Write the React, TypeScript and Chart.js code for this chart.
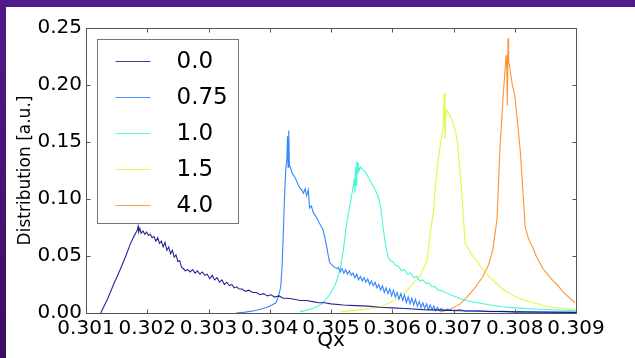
import React, { useEffect, useRef } from "react";
import { Chart, registerables } from "chart.js";

Chart.register(...registerables);

const LABELS = ["0.0", "0.75", "1.0", "1.5", "4.0"];
const COLORS = ["0,0,128", "16,112,255", "40,245,210", "215,250,30", "255,128,16"];
const X_TICKS = [0.301, 0.302, 0.303, 0.304, 0.305, 0.306, 0.307, 0.308, 0.309];
const Y_TICKS = [0, 0.05, 0.1, 0.15, 0.2, 0.25];

const S00: [number, number][] = [
  [0.30124, 0], [0.30135, 0.012], [0.30145, 0.025], [0.30155, 0.037], [0.30165, 0.05], [0.30172, 0.06],
  [0.30178, 0.067], [0.30182, 0.071], [0.30184, 0.073], [0.30185, 0.076], [0.30186, 0.071], [0.30188, 0.074],
  [0.3019, 0.07], [0.30193, 0.072], [0.30196, 0.069], [0.30199, 0.071], [0.30202, 0.068], [0.30205, 0.069],
  [0.30208, 0.066], [0.30211, 0.067], [0.30214, 0.063], [0.30217, 0.066], [0.3022, 0.061], [0.30223, 0.063],
  [0.30226, 0.058], [0.30229, 0.062], [0.30232, 0.055], [0.30235, 0.058], [0.30238, 0.052], [0.30241, 0.055],
  [0.30244, 0.049], [0.30247, 0.051], [0.3025, 0.045], [0.30253, 0.046], [0.30256, 0.04], [0.30259, 0.039],
  [0.30262, 0.037], [0.30266, 0.038], [0.3027, 0.036], [0.30274, 0.038], [0.30278, 0.035], [0.30282, 0.037],
  [0.30286, 0.034], [0.3029, 0.036], [0.30294, 0.033], [0.30298, 0.034], [0.30302, 0.03], [0.30306, 0.033],
  [0.3031, 0.029], [0.30314, 0.031], [0.30318, 0.027], [0.30322, 0.029], [0.30326, 0.025], [0.3033, 0.027],
  [0.30334, 0.024], [0.30338, 0.025], [0.30342, 0.022], [0.30346, 0.023], [0.3035, 0.021], [0.30355, 0.021],
  [0.3036, 0.019], [0.30366, 0.02], [0.30372, 0.018], [0.30378, 0.018], [0.30384, 0.016], [0.3039, 0.017],
  [0.30396, 0.015], [0.30402, 0.016], [0.30408, 0.014], [0.30415, 0.015], [0.30422, 0.013], [0.3043, 0.013],
  [0.3044, 0.012], [0.3045, 0.011], [0.3046, 0.011], [0.3047, 0.01], [0.3048, 0.009], [0.3049, 0.009],
  [0.305, 0.008], [0.3052, 0.007], [0.3054, 0.0065], [0.3056, 0.006], [0.3058, 0.005], [0.306, 0.0045],
  [0.3062, 0.004], [0.3065, 0.003], [0.3068, 0.0025], [0.3071, 0.002], [0.3075, 0.0015], [0.308, 0.001],
  [0.3085, 0.0007], [0.309, 0.0005],
];

const S075: [number, number][] = [
  [0.30345, 0], [0.3036, 0.0008], [0.30375, 0.002], [0.30389, 0.004], [0.304, 0.006], [0.3041, 0.009],
  [0.30414, 0.014], [0.30418, 0.023], [0.3042, 0.04], [0.30422, 0.067], [0.30424, 0.1], [0.30426, 0.125],
  [0.30428, 0.135], [0.30429, 0.155], [0.3043, 0.128], [0.30431, 0.16], [0.30432, 0.13], [0.30434, 0.127],
  [0.30437, 0.122], [0.3044, 0.12], [0.30443, 0.117], [0.30446, 0.113], [0.30449, 0.11], [0.30452, 0.108],
  [0.30455, 0.105], [0.30458, 0.109], [0.3046, 0.103], [0.30462, 0.106], [0.30463, 0.108], [0.30465, 0.092],
  [0.30468, 0.094], [0.30471, 0.088], [0.30475, 0.085], [0.30479, 0.081], [0.30483, 0.077], [0.30487, 0.073],
  [0.3049, 0.066], [0.30493, 0.058], [0.30496, 0.049], [0.30498, 0.044], [0.30502, 0.042], [0.30506, 0.04],
  [0.3051, 0.039], [0.30512, 0.04], [0.30515, 0.036], [0.30518, 0.039], [0.30521, 0.035], [0.30524, 0.038],
  [0.30527, 0.034], [0.3053, 0.037], [0.30533, 0.033], [0.30536, 0.035], [0.30539, 0.031], [0.30542, 0.034],
  [0.30545, 0.029], [0.30548, 0.032], [0.30551, 0.028], [0.30554, 0.031], [0.30557, 0.027], [0.3056, 0.03],
  [0.30563, 0.025], [0.30566, 0.028], [0.30569, 0.024], [0.30572, 0.027], [0.30575, 0.022], [0.30578, 0.025],
  [0.30581, 0.02], [0.30584, 0.024], [0.30587, 0.018], [0.3059, 0.022], [0.30593, 0.017], [0.30596, 0.021],
  [0.30599, 0.015], [0.30602, 0.02], [0.30605, 0.014], [0.30608, 0.018], [0.30611, 0.012], [0.30614, 0.017],
  [0.30617, 0.011], [0.3062, 0.016], [0.30623, 0.009], [0.30626, 0.014], [0.30629, 0.008], [0.30632, 0.013],
  [0.30635, 0.007], [0.30638, 0.012], [0.30641, 0.006], [0.30644, 0.01], [0.30647, 0.005], [0.3065, 0.009],
  [0.30653, 0.004], [0.30656, 0.008], [0.30659, 0.003], [0.30662, 0.007], [0.30665, 0.003], [0.30668, 0.006],
  [0.30671, 0.002], [0.30674, 0.005], [0.30677, 0.002], [0.3068, 0.004], [0.30685, 0.002], [0.3069, 0.0035],
  [0.307, 0.002], [0.3071, 0.003], [0.3072, 0.0015], [0.3074, 0.002], [0.3076, 0.0012], [0.3078, 0.0015],
  [0.308, 0.001], [0.3085, 0.001], [0.309, 0.0008],
];

const S10: [number, number][] = [
  [0.30449, 0.001], [0.3047, 0.004], [0.30485, 0.008], [0.30498, 0.016], [0.30508, 0.026], [0.30515, 0.038],
  [0.3052, 0.055], [0.30526, 0.08], [0.30531, 0.095], [0.30536, 0.11], [0.30538, 0.118], [0.30539, 0.105],
  [0.3054, 0.128], [0.30541, 0.112], [0.30542, 0.133], [0.30543, 0.122], [0.30544, 0.132], [0.30546, 0.125],
  [0.30548, 0.128], [0.30551, 0.126], [0.30556, 0.124], [0.30562, 0.118], [0.30568, 0.112], [0.30575, 0.105],
  [0.30578, 0.1], [0.30582, 0.09], [0.30585, 0.075], [0.30589, 0.06], [0.30593, 0.049], [0.30597, 0.046],
  [0.30601, 0.045], [0.30605, 0.042], [0.3061, 0.041], [0.30615, 0.037], [0.3062, 0.038], [0.30625, 0.034],
  [0.3063, 0.035], [0.30635, 0.031], [0.3064, 0.032], [0.30645, 0.028], [0.3065, 0.029], [0.30655, 0.026],
  [0.3066, 0.026], [0.30665, 0.023], [0.3067, 0.023], [0.30675, 0.02], [0.3068, 0.02], [0.3069, 0.017],
  [0.307, 0.015], [0.3071, 0.013], [0.3072, 0.011], [0.3074, 0.009], [0.3076, 0.007], [0.3078, 0.0055],
  [0.308, 0.0045], [0.3083, 0.0035], [0.3086, 0.0028], [0.309, 0.002],
];

const S15: [number, number][] = [
  [0.30515, 0.001], [0.3055, 0.003], [0.3058, 0.005], [0.306, 0.01], [0.30613, 0.015], [0.30625, 0.02],
  [0.30634, 0.026], [0.30645, 0.032], [0.30657, 0.046], [0.30662, 0.07], [0.30667, 0.088], [0.30673, 0.125],
  [0.30678, 0.146], [0.30683, 0.163], [0.30685, 0.193], [0.30686, 0.153], [0.30687, 0.17], [0.30689, 0.178],
  [0.30693, 0.174], [0.30698, 0.169], [0.30702, 0.162], [0.30706, 0.152], [0.3071, 0.128], [0.30714, 0.102],
  [0.30719, 0.061], [0.30725, 0.056], [0.30731, 0.05], [0.30738, 0.046], [0.30745, 0.04], [0.30752, 0.036],
  [0.30758, 0.032], [0.30764, 0.029], [0.30772, 0.025], [0.3078, 0.021], [0.30792, 0.017], [0.3081, 0.012],
  [0.3083, 0.009], [0.3086, 0.005], [0.309, 0.0026],
];

const S40: [number, number][] = [
  [0.30678, 0.001], [0.30694, 0.003], [0.30711, 0.008], [0.30722, 0.014], [0.30735, 0.022], [0.30748, 0.032],
  [0.30757, 0.042], [0.30764, 0.055], [0.30771, 0.082], [0.30776, 0.146], [0.30781, 0.19], [0.30786, 0.226],
  [0.30787, 0.215], [0.30788, 0.182], [0.30789, 0.241], [0.3079, 0.22], [0.30792, 0.215], [0.30796, 0.2],
  [0.308, 0.191], [0.30805, 0.165], [0.30809, 0.142], [0.30813, 0.11], [0.30817, 0.075], [0.30822, 0.066],
  [0.30826, 0.061], [0.3083, 0.057], [0.30835, 0.05], [0.3084, 0.045], [0.30846, 0.039], [0.30852, 0.035],
  [0.30858, 0.031], [0.30863, 0.028], [0.30869, 0.025], [0.30878, 0.019], [0.30888, 0.014], [0.30898, 0.009],
];

const SERIES = [S00, S075, S10, S15, S40];
const FONT = "'DejaVu Sans', sans-serif";

const framePlugin = {
  id: "frame",
  afterDatasetsDraw(chart: any) {
    const { ctx, chartArea: a, scales } = chart;
    const x = scales.x;
    const y = scales.y;
    const L = Math.round(a.left) + 0.5;
    const R = Math.round(a.right) + 0.5;
    const T = Math.round(a.top) + 0.5;
    const B = Math.round(a.bottom) + 0.5;
    ctx.save();
    ctx.strokeStyle = "#555";
    ctx.lineWidth = 1;
    ctx.beginPath();
    ctx.rect(L, T, R - L, B - T);
    for (const v of X_TICKS) {
      const px = Math.round(x.getPixelForValue(v)) + 0.5;
      ctx.moveTo(px, B);
      ctx.lineTo(px, B - 4);
      ctx.moveTo(px, T);
      ctx.lineTo(px, T + 4);
    }
    for (const v of Y_TICKS) {
      const py = Math.round(y.getPixelForValue(v)) + 0.5;
      ctx.moveTo(L, py);
      ctx.lineTo(L + 4, py);
      ctx.moveTo(R, py);
      ctx.lineTo(R - 4, py);
    }
    ctx.stroke();
    ctx.restore();
  },
  afterDraw(chart: any) {
    const { ctx, chartArea: a } = chart;
    const bx = a.left + 11.5;
    const by = a.top + 11.5;
    const bw = 141;
    const bh = 184;
    ctx.save();
    ctx.fillStyle = "#fff";
    ctx.strokeStyle = "#777";
    ctx.lineWidth = 1;
    ctx.fillRect(bx, by, bw, bh);
    ctx.strokeRect(bx, by, bw, bh);
    ctx.font = `23px ${FONT}`;
    ctx.textBaseline = "middle";
    ctx.fillStyle = "#000";
    chart.data.datasets.forEach((ds: any, i: number) => {
      const cy = Math.round(by + 21 + i * 36) + 0.5;
      ctx.strokeStyle = `rgba(${COLORS[i]},0.75)`;
      ctx.beginPath();
      ctx.moveTo(bx + 18, cy);
      ctx.lineTo(bx + 53, cy);
      ctx.stroke();
      ctx.fillText(ds.label, bx + 79, cy + 1);
    });
    ctx.restore();
  },
};

export default function App() {
  const ref = useRef<HTMLCanvasElement>(null);
  useEffect(() => {
    const canvas = ref.current;
    if (!canvas) return;
    const chart = new Chart(canvas, {
      type: "line",
      data: {
        datasets: SERIES.map((s, i) => ({
          label: LABELS[i],
          data: s.map(([q, v]) => ({ x: q, y: v })),
          borderColor: `rgba(${COLORS[i]},0.85)`,
          backgroundColor: `rgba(${COLORS[i]},0.85)`,
          borderWidth: 1.1,
          pointRadius: 0,
          tension: 0,
          fill: false,
        })),
      },
      options: {
        animation: false,
        responsive: false,
        devicePixelRatio: 1,
        layout: { padding: { top: 28, right: 59, left: 0, bottom: 0 } },
        plugins: { legend: { display: false }, tooltip: { enabled: false } },
        scales: {
          x: {
            type: "linear",
            min: 0.301,
            max: 0.309,
            afterBuildTicks: (s: any) => {
              s.ticks = X_TICKS.map((v) => ({ value: v }));
            },
            afterFit: (s: any) => {
              s.height = 45;
            },
            grid: { display: false, drawTicks: false, tickLength: 0 },
            border: { display: false },
            ticks: {
              padding: 4,
              color: "#000",
              font: { family: FONT, size: 20 },
              maxRotation: 0,
              autoSkip: false,
              callback: (v: any) => Number(v).toFixed(3),
            },
            title: {
              display: true,
              text: "Qx",
              color: "#000",
              font: { family: FONT, size: 20 },
              padding: { top: 0, bottom: 5 },
            },
          },
          y: {
            type: "linear",
            min: 0,
            max: 0.25,
            afterBuildTicks: (s: any) => {
              s.ticks = Y_TICKS.map((v) => ({ value: v }));
            },
            afterFit: (s: any) => {
              s.width = 86;
            },
            grid: { display: false, drawTicks: false, tickLength: 0 },
            border: { display: false },
            ticks: {
              padding: 4,
              color: "#000",
              font: { family: FONT, size: 20 },
              callback: (v: any) => Number(v).toFixed(2),
            },
            title: {
              display: true,
              text: "Distribution [a.u.]",
              color: "#000",
              font: { family: FONT, size: 17 },
              padding: { top: 15, bottom: 0 },
            },
          },
        },
      },
      plugins: [framePlugin],
    } as any);
    return () => chart.destroy();
  }, []);

  return (
    <div
      style={{
        position: "fixed",
        left: 0,
        top: 0,
        width: 635,
        height: 358,
        background: "linear-gradient(to bottom, #53188a, #3a0f60)",
        overflow: "hidden",
      }}
    >
      <div style={{ position: "absolute", left: 6, top: 7, right: 0, bottom: 0, background: "#fff" }} />
      <canvas
        ref={ref}
        width={635}
        height={358}
        style={{ position: "absolute", left: 0, top: 0, width: 635, height: 358 }}
      />
    </div>
  );
}
